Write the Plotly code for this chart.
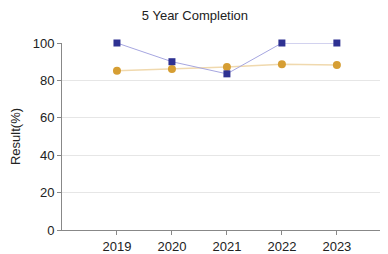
import plotly.graph_objects as go

years = [2019, 2020, 2021, 2022, 2023]
series_a = [100, 90, 83.5, 100, 100]
series_b = [85.2, 86.1, 87.1, 88.6, 88.2]
y_ticks = [0, 20, 40, 60, 80, 100]

fig = go.Figure()
fig.add_trace(go.Scatter(
    x=years, y=series_b, mode="lines+markers",
    line=dict(color="#F0D9AE", width=1.5),
    marker=dict(symbol="circle", size=8, color="#D69E33"),
    cliponaxis=False, showlegend=False,
))
fig.add_trace(go.Scatter(
    x=years, y=series_a, mode="lines+markers",
    line=dict(color="#A6A6E0", width=1),
    marker=dict(symbol="square", size=7, color="#2E3192"),
    cliponaxis=False, showlegend=False,
))

# page body has an 8px margin, so the figure is sized/offset to compensate
fig.update_layout(
    width=380, height=246,
    margin=dict(l=54, r=0, t=35, b=24),
    paper_bgcolor="white", plot_bgcolor="white",
    font=dict(family="Liberation Sans, Arial, sans-serif", size=13, color="#222"),
    title=dict(text="5 Year Completion", x=0.492, xref="container", y=1 - 7.5 / 246,
               yref="container", xanchor="center", yanchor="middle",
               font=dict(size=13, color="#222")),
)
fig.update_xaxes(
    range=[2018, 2023.93], tickvals=years, ticktext=[str(y) for y in years],
    showgrid=False, showline=True, linecolor="#888", linewidth=1,
    ticks="outside", ticklen=4, tickcolor="#888", zeroline=False,
)
fig.update_yaxes(
    range=[0, 100], tickvals=y_ticks, showgrid=True, gridcolor="#E6E6E6",
    showline=True, linecolor="#888", linewidth=1, ticks="outside", ticklen=4,
    tickcolor="#888", zeroline=False,
    title=dict(text="Result(%)", standoff=10, font=dict(size=13)),
)
fig.write_html("out.html")
